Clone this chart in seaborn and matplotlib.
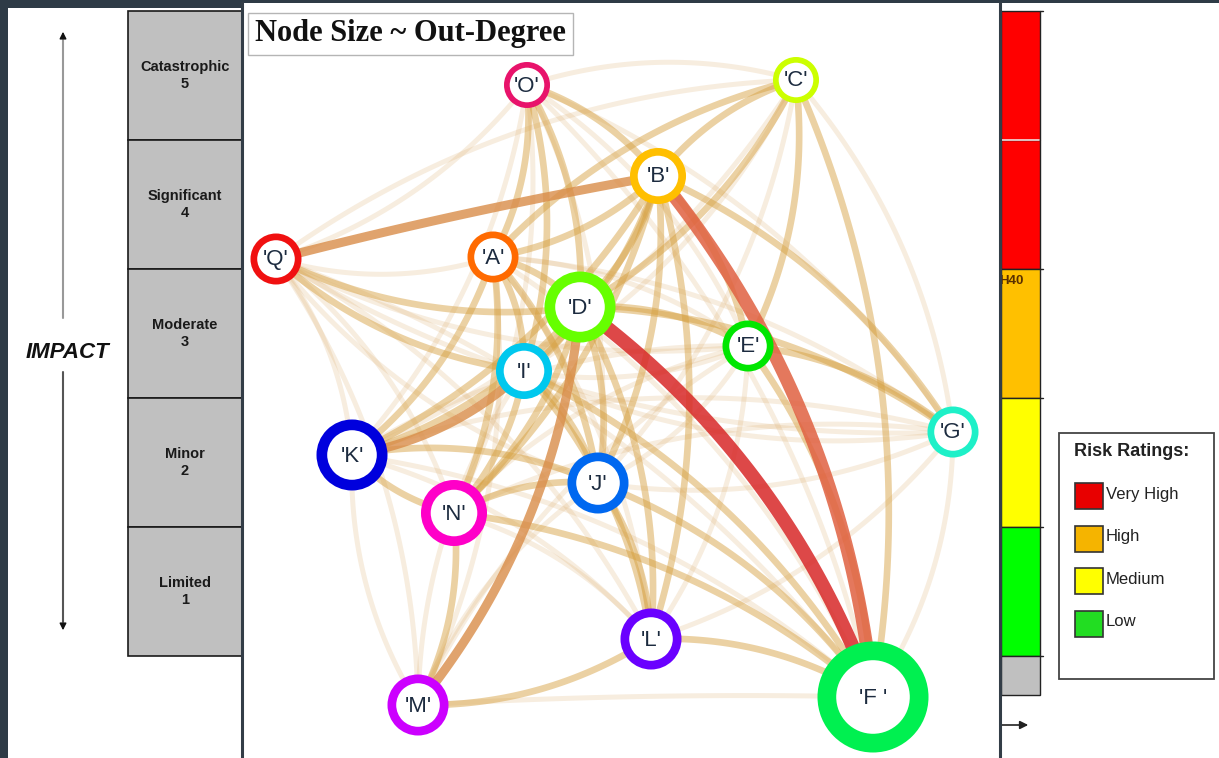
import numpy as np
import matplotlib
matplotlib.use("Agg")
import matplotlib.pyplot as plt
from matplotlib.patches import Rectangle
import seaborn as sns

# ---- data ----
nodes = ['O', 'C', 'B', 'Q', 'A', 'D', 'E', 'I', 'G', 'K', 'J', 'N', 'L', 'M', 'F']
node_labels = ["'O'", "'C'", "'B'", "'Q'", "'A'", "'D'", "'E'", "'I'", "'G'",
               "'K'", "'J'", "'N'", "'L'", "'M'", "'F '"]
# layout coordinates (pixel space of the drawing, y grows downwards)
node_x = [527, 796, 658, 276, 493, 580, 748, 524, 953, 352, 598, 454, 651, 418, 873]
node_y = [85, 80, 176, 259, 257, 307, 346, 371, 432, 455, 483, 513, 639, 705, 697]
out_degree = [3, 3, 5, 4, 4, 8, 4, 5, 4, 8, 6, 7, 6, 6, 16]
node_colors = ['#e8136b', '#ccff00', '#ffbf00', '#f01010', '#ff6a00', '#66ff00',
               '#00e600', '#00c8ee', '#1ef0c8', '#0000dd', '#0068f0', '#ff00c8',
               '#6a00ff', '#cc00ff', '#00f050']

# (source, target, link strength)
edges = [
    ('O', 'C', 1), ('O', 'Q', 1), ('O', 'K', 1), ('O', 'N', 1), ('O', 'J', 1),
    ('O', 'F', 1), ('O', 'E', 1), ('O', 'G', 1),
    ('A', 'Q', 1), ('Q', 'C', 1), ('Q', 'K', 1), ('Q', 'N', 1), ('Q', 'M', 1),
    ('J', 'Q', 1), ('E', 'Q', 1), ('G', 'Q', 1), ('Q', 'F', 1), ('Q', 'L', 1),
    ('C', 'G', 1), ('C', 'I', 1), ('C', 'J', 1), ('C', 'K', 1),
    ('A', 'M', 1), ('A', 'L', 1), ('A', 'E', 1), ('A', 'G', 1), ('A', 'F', 1),
    ('M', 'K', 1), ('K', 'L', 1), ('K', 'G', 1), ('K', 'E', 1), ('K', 'F', 1),
    ('N', 'G', 1), ('N', 'E', 1), ('N', 'L', 1),
    ('M', 'F', 1), ('M', 'J', 1), ('M', 'I', 1), ('M', 'E', 1),
    ('G', 'F', 1), ('G', 'L', 1), ('G', 'J', 1), ('G', 'I', 1),
    ('E', 'L', 1), ('E', 'J', 1), ('E', 'I', 1),
    ('C', 'F', 2), ('B', 'C', 2), ('C', 'D', 2), ('A', 'C', 2), ('C', 'E', 2),
    ('O', 'A', 2), ('O', 'I', 2), ('O', 'D', 2), ('O', 'B', 2),
    ('B', 'D', 2), ('B', 'A', 2), ('B', 'I', 2), ('B', 'K', 2), ('B', 'N', 2),
    ('B', 'J', 2), ('B', 'L', 2), ('B', 'E', 2), ('B', 'G', 2),
    ('D', 'Q', 2), ('I', 'Q', 2),
    ('A', 'D', 2), ('A', 'I', 2), ('A', 'K', 2), ('A', 'N', 2), ('A', 'J', 2),
    ('D', 'J', 2), ('D', 'N', 2), ('D', 'K', 2), ('D', 'L', 2), ('D', 'E', 2),
    ('D', 'G', 2), ('D', 'I', 2),
    ('I', 'N', 2), ('I', 'J', 2), ('I', 'F', 2), ('I', 'L', 2),
    ('N', 'K', 2), ('K', 'J', 2),
    ('N', 'M', 2), ('N', 'F', 2), ('N', 'J', 2),
    ('J', 'F', 2), ('J', 'L', 2),
    ('E', 'F', 2), ('E', 'G', 2), ('L', 'F', 2), ('L', 'M', 2),
    ('Q', 'B', 3), ('I', 'K', 3), ('D', 'M', 3),
    ('B', 'F', 4), ('D', 'F', 5),
]

impact_labels = ['Catastrophic', 'Significant', 'Moderate', 'Minor', 'Limited']
impact_scores = [5, 4, 3, 2, 1]
bar_colors = ['#ff0000', '#ff0000', '#ffc000', '#ffff00', '#00ff00', '#c0c0c0']
risk_labels = ['Very High', 'High', 'Medium', 'Low']
risk_colors = ['#e80000', '#f5b400', '#ffff00', '#22dd22']

# ---- styles ----
BG = '#2e3b46'
edge_style = {1: ('#dcae70', 0.22, 3.6),
              2: ('#d6a040', 0.48, 4.8),
              3: ('#d98c48', 0.80, 6.5),
              4: ('#e06040', 0.85, 9.5),
              5: ('#d82828', 0.85, 10.0)}
BEND = 0.15
straight_links = {('Q', 'B'), ('M', 'F')}

sns.set_theme(style='white')
plt.rcParams['font.family'] = ['Liberation Sans', 'DejaVu Sans']

fig = plt.figure(figsize=(12.19, 7.58), dpi=100, facecolor=BG)

# background axes in pixel units
bg = fig.add_axes([0, 0, 1, 1])
bg.set_xlim(0, 1219)
bg.set_ylim(758, 0)
bg.axis('off')
bg.add_patch(Rectangle((8, 8), 240, 760, facecolor='white', edgecolor='none'))
bg.add_patch(Rectangle((995, 3), 230, 760, facecolor='white', edgecolor='none'))

# impact scale on the left
row_top, row_h = 11, 129
for i, (lab, sc) in enumerate(zip(impact_labels, impact_scores)):
    y0 = row_top + i * row_h
    bg.add_patch(Rectangle((128, y0), 130, row_h, facecolor='#c0c0c0',
                           edgecolor='#1a1a1a', lw=1.2))
    bg.text(185, y0 + row_h / 2, f'{lab}\n{sc}', ha='center', va='center',
            fontsize=10.5, fontweight='bold', color='#1a1a1a', linespacing=1.25)

bg.plot([63, 63], [40, 318], color='#999999', lw=1.5)
bg.plot([63, 63], [372, 622], color='#555555', lw=1.5)
bg.annotate('', xy=(63, 29), xytext=(63, 41),
            arrowprops=dict(arrowstyle='-|>', color='#111111', lw=1, mutation_scale=10))
bg.annotate('', xy=(63, 633), xytext=(63, 621),
            arrowprops=dict(arrowstyle='-|>', color='#111111', lw=1, mutation_scale=10))
bg.text(67, 353, 'IMPACT', ha='center', va='center', fontsize=16,
        fontweight='bold', fontstyle='italic', color='#111111')

# risk colour bar on the right
seg_bounds = [11, 140, 269, 398, 527, 656, 695]
for i, col in enumerate(bar_colors):
    bg.add_patch(Rectangle((1001, seg_bounds[i]), 39, seg_bounds[i + 1] - seg_bounds[i],
                           facecolor=col, edgecolor='#222222', lw=1.0))
bg.plot([1002, 1039], [140, 140], color='#ffdddd', lw=1.2)
for yb in [11, 269, 398, 527, 656]:
    bg.plot([1040, 1043], [yb, yb], color='#222222', lw=1)
bg.text(999, 281, 'H40', ha='left', va='center', fontsize=9.5,
        fontweight='bold', color='#5a3000')
bg.annotate('', xy=(1031, 725), xytext=(998, 725),
            arrowprops=dict(arrowstyle='-|>', color='#222222', lw=1.2, mutation_scale=12))

# legend box
bg.add_patch(Rectangle((1059, 433), 155, 246, facecolor='white',
                       edgecolor='#444444', lw=1.3))
bg.text(1074, 451, 'Risk Ratings:', ha='left', va='center', fontsize=13,
        fontweight='bold', color='#222222')
for i, (lab, col) in enumerate(zip(risk_labels, risk_colors)):
    y0 = 483 + i * 42.5
    bg.add_patch(Rectangle((1075, y0), 28, 26, facecolor=col, edgecolor='#333333', lw=1.2))
    bg.text(1106, y0 + 11, lab, ha='left', va='center', fontsize=12, color='#222222')

# ---- network panel ----
net = fig.add_axes([242 / 1219, 0, 758 / 1219, 755 / 758])
net.set_facecolor('white')
net.set_xlim(242, 1000)
net.set_ylim(758, 3)
net.set_xticks([])
net.set_yticks([])
for side in ['top', 'bottom']:
    net.spines[side].set_visible(False)
for side in ['left', 'right']:
    net.spines[side].set_color('#333d47')
    net.spines[side].set_linewidth(2.2)

pos = {n: (x, y) for n, x, y in zip(nodes, node_x, node_y)}
t = np.linspace(0, 1, 60)
for src, dst, w in sorted(edges, key=lambda e: e[2]):
    x1, y1 = pos[src]
    x2, y2 = pos[dst]
    dx, dy = x2 - x1, y2 - y1
    bend = 0.02 if (src, dst) in straight_links else BEND
    cx = (x1 + x2) / 2 + bend * dy
    cy = (y1 + y2) / 2 - bend * dx
    xs = (1 - t) ** 2 * x1 + 2 * (1 - t) * t * cx + t ** 2 * x2
    ys = (1 - t) ** 2 * y1 + 2 * (1 - t) * t * cy + t ** 2 * y2
    col, alpha, lw = edge_style[w]
    net.plot(xs, ys, color=col, alpha=alpha, lw=lw, solid_capstyle='butt', zorder=2)

# node rings, size follows out-degree
deg = np.array(out_degree, dtype=float)
r_out = 15.5 + 2.5 * deg
r_in = 0.6 * r_out + 3.5
r_mid = (r_out + r_in) / 2
px2pt = 72 / fig.dpi
sizes = (2 * r_mid * px2pt) ** 2
sns.scatterplot(x=node_x, y=node_y, s=sizes, color='white', ax=net, zorder=5, legend=False)
rings = net.collections[-1]
rings.set_facecolors('white')
rings.set_edgecolors(node_colors)
rings.set_linewidths((r_out - r_in) * px2pt)

for x, y, lab in zip(node_x, node_y, node_labels):
    net.text(x, y + 1, lab, ha='center', va='center', fontsize=16,
             color='#1c2b3f', zorder=6)

net.text(255, 34, 'Node Size ~ Out-Degree', ha='left', va='center', fontsize=22,
         fontweight='bold', family=['Liberation Serif', 'DejaVu Serif'], color='#111111',
         zorder=7, bbox=dict(boxstyle='square,pad=0.22', facecolor='white',
                             edgecolor='#b5b5b5', lw=1))

fig.savefig('out.png', dpi=100, facecolor=BG)
